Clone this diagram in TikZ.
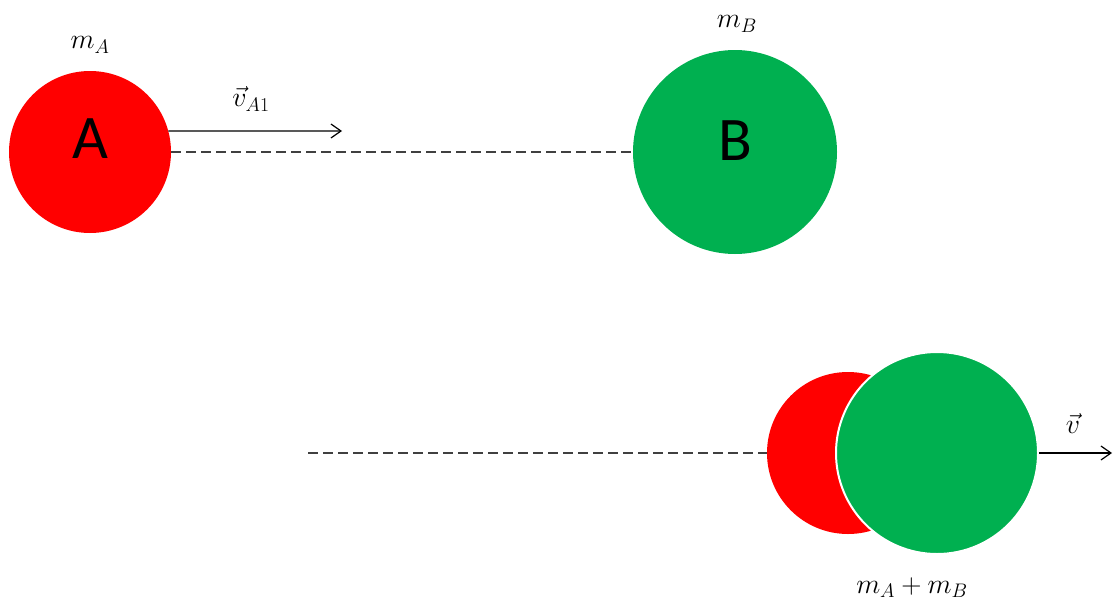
\documentclass[tikz,border=0pt]{standalone}
\usepackage{fix-cm}
\usepackage{amsmath}
\usepackage{fontspec}
\setmainfont{Carlito}
\usetikzlibrary{arrows.meta}
\definecolor{ballred}{HTML}{FF0000}
\definecolor{ballgreen}{HTML}{00B050}
\definecolor{dashgray}{HTML}{404040}
\tikzset{
  ball/.style={circle,inner sep=0pt,minimum size=#1,font=\fontsize{62}{62}\selectfont},
  track/.style={dashgray,line width=1.4pt,dash pattern=on 10pt off 5pt},
  vel/.style={line width=1.2pt,-{Straight Barb[length=10pt,width=14pt,line width=1.2pt]}},
  lab/.style={font=\fontsize{28}{32}\selectfont}
}

\begin{document}
\begin{tikzpicture}[x=1pt,y=-1pt]
            \useasboundingbox (0,0) rectangle (1113,608);
            % coordinates for the balls
            \node (A) at (90,152) [ball=162pt,fill=ballred]{\raisebox{-6pt}[0pt][0pt]{A}};
            \node (B) at (735,152) [ball=204pt,fill=ballgreen]{\raisebox{-8pt}[0pt][0pt]{B}};
            \node (A2) at (848,453) [ball=162pt,fill=ballred]{};
            \node (B2) at (937,453) [ball=202pt,fill=ballgreen,draw=white,line width=2pt]{};
            \coordinate (vA1end) at (342,131);
            \coordinate (start2) at (308,453);
            \coordinate (vend) at (1112,453);

            % before the collision
            \draw[track] (A.east) -- (B.west);
            \draw[vel] (A.15) -- (vA1end);

            % after the collision
            \draw[track] (start2) -- (A2.west);
            \draw[vel] (B2.east) -- (vend);

            % labels
            \node[lab] (mA) at (90,45) {$m_A$};
            \node[lab] (mB) at (737,24) {$m_B$};
            \node[lab] (vA1) at (251,99) {$\vec{v}_{A1}$};
            \node[lab] (v) at (1073,424) {$\vec{v}$};
            \node[lab] (mAB) at (912,588) {$m_A+m_B$};
\end{tikzpicture}
\end{document}
